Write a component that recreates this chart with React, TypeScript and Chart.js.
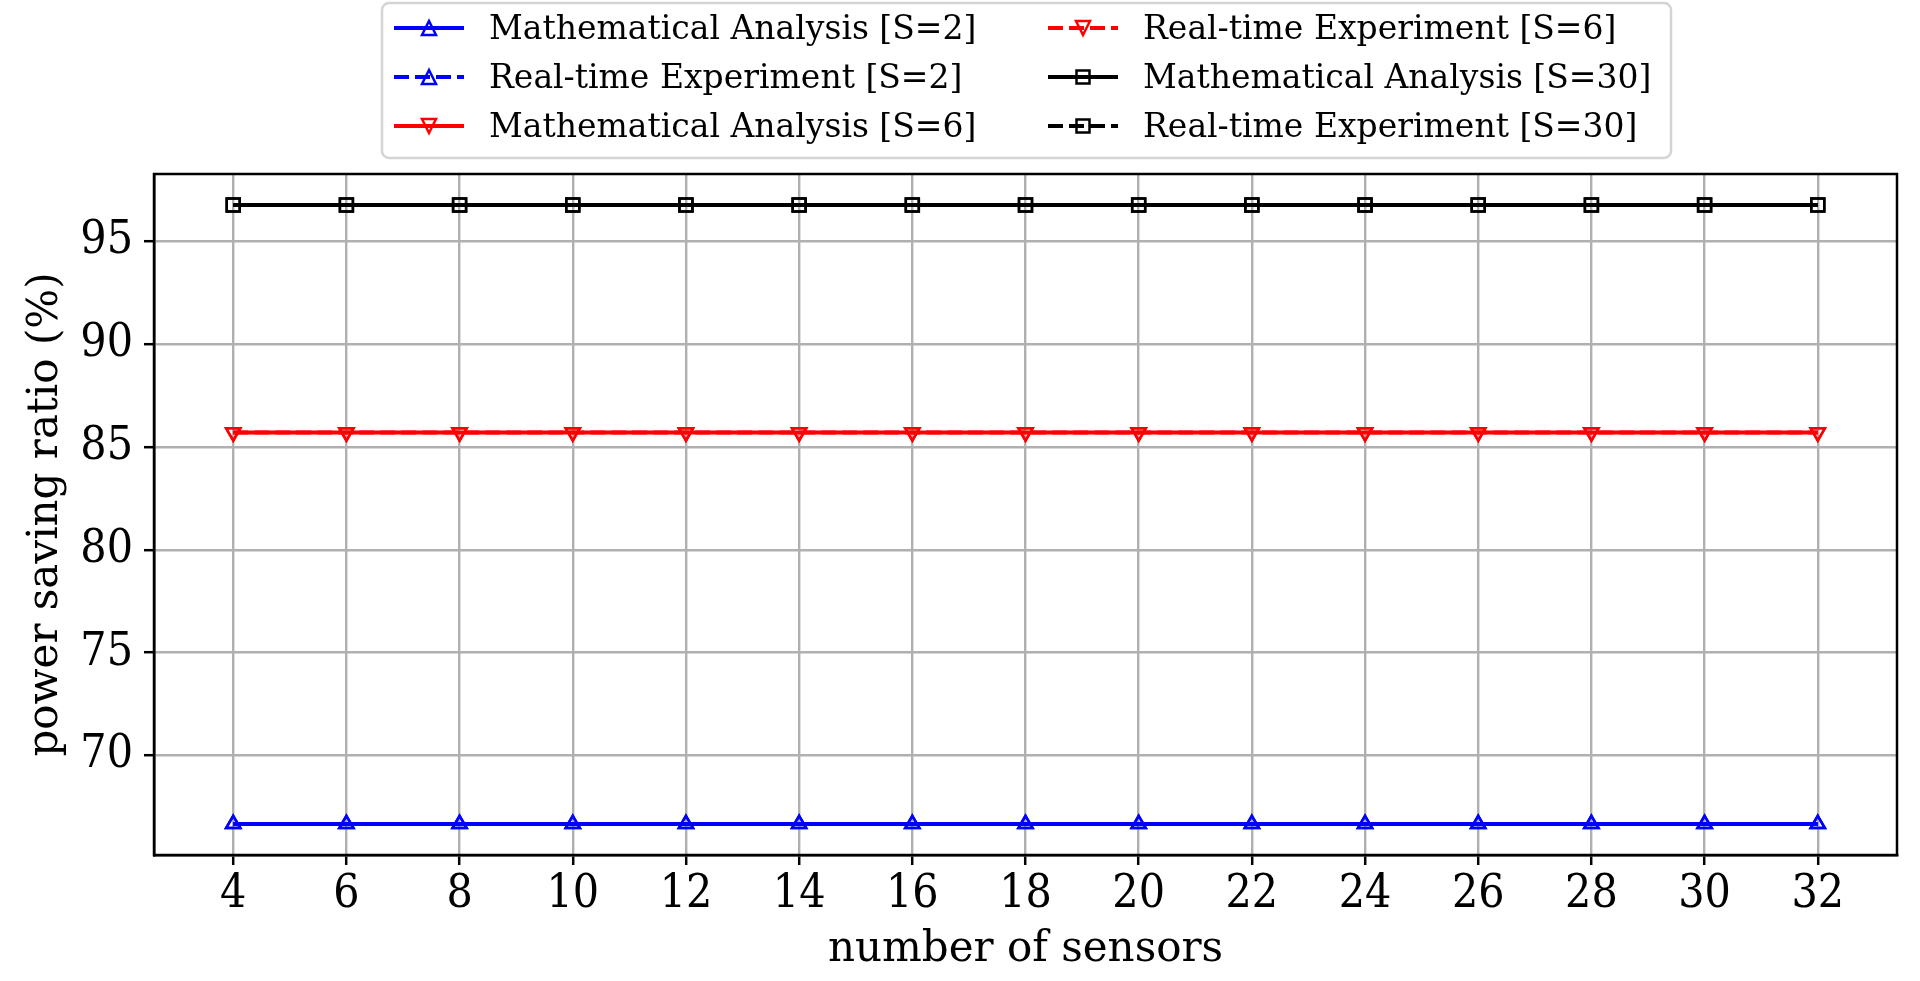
import { useEffect, useRef } from 'react'
import { Chart, registerables } from 'chart.js'

Chart.register(...registerables)

const SENSORS = [4, 6, 8, 10, 12, 14, 16, 18, 20, 22, 24, 26, 28, 30, 32]
const MA_S2 = [66.67, 66.67, 66.67, 66.67, 66.67, 66.67, 66.67, 66.67, 66.67, 66.67, 66.67, 66.67, 66.67, 66.67, 66.67]
const RT_S2 = [66.67, 66.67, 66.67, 66.67, 66.67, 66.67, 66.67, 66.67, 66.67, 66.67, 66.67, 66.67, 66.67, 66.67, 66.67]
const MA_S6 = [85.71, 85.71, 85.71, 85.71, 85.71, 85.71, 85.71, 85.71, 85.71, 85.71, 85.71, 85.71, 85.71, 85.71, 85.71]
const RT_S6 = [85.71, 85.71, 85.71, 85.71, 85.71, 85.71, 85.71, 85.71, 85.71, 85.71, 85.71, 85.71, 85.71, 85.71, 85.71]
const MA_S30 = [96.77, 96.77, 96.77, 96.77, 96.77, 96.77, 96.77, 96.77, 96.77, 96.77, 96.77, 96.77, 96.77, 96.77, 96.77]
const RT_S30 = [96.77, 96.77, 96.77, 96.77, 96.77, 96.77, 96.77, 96.77, 96.77, 96.77, 96.77, 96.77, 96.77, 96.77, 96.77]

const X_TICKS = [4, 6, 8, 10, 12, 14, 16, 18, 20, 22, 24, 26, 28, 30, 32]
const Y_TICKS = [70, 75, 80, 85, 90, 95]

const FONT = "'DejaVu Serif', serif"
const TICK_FONT = "'DejaVu Serif Condensed', 'DejaVu Serif', serif"
const DASH = [15, 6]

type Marker = 'up' | 'down' | 'square'
type Series = { label: string; data: number[]; color: string; dashed: boolean; marker: Marker }

const SERIES: Series[] = [
  { label: 'Mathematical Analysis [S=2]', data: MA_S2, color: '#0000ff', dashed: false, marker: 'up' },
  { label: 'Real-time Experiment [S=2]', data: RT_S2, color: '#0000ff', dashed: true, marker: 'up' },
  { label: 'Mathematical Analysis [S=6]', data: MA_S6, color: '#ff0000', dashed: false, marker: 'down' },
  { label: 'Real-time Experiment [S=6]', data: RT_S6, color: '#ff0000', dashed: true, marker: 'down' },
  { label: 'Mathematical Analysis [S=30]', data: MA_S30, color: '#000000', dashed: false, marker: 'square' },
  { label: 'Real-time Experiment [S=30]', data: RT_S30, color: '#000000', dashed: true, marker: 'square' },
]

function drawMarker(ctx: CanvasRenderingContext2D, m: Marker, x: number, y: number, color: string) {
  ctx.save()
  ctx.strokeStyle = color
  ctx.lineWidth = 2.5
  ctx.setLineDash([])
  ctx.beginPath()
  if (m === 'square') {
    ctx.rect(x - 6.5, y - 6.5, 13, 13)
  } else {
    const s = m === 'up' ? 1 : -1
    ctx.moveTo(x, y - 7 * s)
    ctx.lineTo(x - 7, y + 7 * s)
    ctx.lineTo(x + 7, y + 7 * s)
    ctx.closePath()
  }
  ctx.stroke()
  ctx.restore()
}

// frame round the plot, plus a two column (column-major) legend like matplotlib's
const framePlugin = {
  id: 'frameAndLegend',
  afterDraw(chart: any) {
    const { ctx, chartArea: a } = chart
    ctx.save()
    ctx.strokeStyle = '#000'
    ctx.lineWidth = 2.5
    ctx.strokeRect(a.left, a.top, a.right - a.left, a.bottom - a.top)

    ctx.beginPath()
    ctx.roundRect(382, 3, 1289, 155, 7)
    ctx.fillStyle = 'rgba(255,255,255,0.8)'
    ctx.fill()
    ctx.strokeStyle = '#d4d4d4'
    ctx.lineWidth = 2.5
    ctx.stroke()

    const cols = [394, 1048]
    const rows = [28, 77, 126]
    ctx.font = `33px ${FONT}`
    ctx.textBaseline = 'middle'
    SERIES.forEach((s, i) => {
      const x0 = cols[Math.floor(i / 3)]
      const y = rows[i % 3]
      ctx.beginPath()
      ctx.strokeStyle = s.color
      ctx.lineWidth = 4
      ctx.setLineDash(s.dashed ? DASH : [])
      ctx.moveTo(x0, y)
      ctx.lineTo(x0 + 70, y)
      ctx.stroke()
      ctx.setLineDash([])
      drawMarker(ctx, s.marker, x0 + 35, y, s.color)
      ctx.fillStyle = '#000'
      ctx.fillText(s.label, x0 + 95, y + 2)
    })
    ctx.restore()
  },
}

const pointStyle = (m: Marker) => (m === 'square' ? 'rect' : 'triangle')

export default function App() {
  const canvasRef = useRef<HTMLCanvasElement>(null)
  const chartRef = useRef<any>(null)

  useEffect(() => {
    document.body.style.margin = '0'
    if (!canvasRef.current) return
    if (chartRef.current) chartRef.current.destroy()

    chartRef.current = new Chart(canvasRef.current, {
      type: 'line',
      data: {
        datasets: SERIES.map(s => ({
          label: s.label,
          data: SENSORS.map((x, i) => ({ x, y: s.data[i] })),
          borderColor: s.color,
          borderWidth: 4,
          borderDash: s.dashed ? DASH : [],
          pointStyle: pointStyle(s.marker),
          pointRotation: s.marker === 'down' ? 180 : 0,
          pointRadius: s.marker === 'square' ? 9.2 : 8.2,
          pointBorderWidth: 2.5,
          pointBorderColor: s.color,
          pointBackgroundColor: 'rgba(0,0,0,0)',
          fill: false,
          tension: 0,
        })),
      },
      options: {
        animation: false,
        responsive: true,
        maintainAspectRatio: false,
        devicePixelRatio: 1,
        layout: { padding: { top: 174, right: 23, left: 0, bottom: 0 } },
        plugins: { legend: { display: false }, tooltip: { enabled: false } },
        scales: {
          x: {
            type: 'linear',
            min: 2.6,
            max: 33.4,
            afterBuildTicks: (scale: any) => { scale.ticks = X_TICKS.map(v => ({ value: v })) },
            afterFit: (scale: any) => { scale.height = 126 },
            ticks: { color: '#000', font: { family: TICK_FONT, size: 46 }, padding: 2, maxRotation: 0, autoSkip: false },
            grid: { color: '#b0b0b0', lineWidth: 2.4, tickColor: '#000', tickWidth: 2.5, tickLength: 10 },
            border: { color: '#000', width: 2.5 },
            title: { display: true, text: 'number of sensors', color: '#000', font: { family: FONT, size: 42 }, padding: { top: 0, bottom: 6 } },
          },
          y: {
            min: 65.16,
            max: 98.28,
            afterBuildTicks: (scale: any) => { scale.ticks = Y_TICKS.map(v => ({ value: v })) },
            afterFit: (scale: any) => { scale.width = 154 },
            ticks: { color: '#000', font: { family: TICK_FONT, size: 46 }, padding: 11 },
            grid: { color: '#b0b0b0', lineWidth: 2.4, tickColor: '#000', tickWidth: 2.5, tickLength: 10 },
            border: { color: '#000', width: 2.5 },
            title: { display: true, text: 'power saving ratio (%)', color: '#000', font: { family: FONT, size: 42 }, padding: { top: 21, bottom: 0 } },
          },
        },
      },
      plugins: [framePlugin],
    } as any)

    return () => { if (chartRef.current) chartRef.current.destroy() }
  }, [])

  return (
    <div style={{ width: 1920, height: 981, position: 'relative' }}>
      <canvas ref={canvasRef} />
    </div>
  )
}
